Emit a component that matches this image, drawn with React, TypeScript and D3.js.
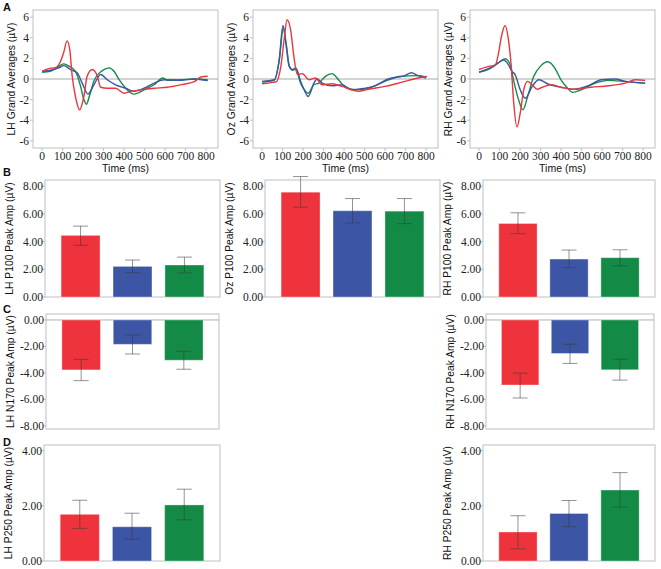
import React from "react";
import * as d3 from "d3";

// ---------- DATA ----------
const CONDITIONS = ["red", "blue", "green"];
const COLORS: Record<string, string> = { red: "#e8373f", blue: "#3a56a6", green: "#168c4a" };
const BAR_COLORS: Record<string, string> = { red: "#ef333d", blue: "#3c55a5", green: "#138b47" };

const TIME_TICKS = [0, 100, 200, 300, 400, 500, 600, 700, 800];
const WAVE_Y_TICKS = [-6, -4, -2, 0, 2, 4, 6];
const P100_TICKS = [0, 2, 4, 6, 8];
const N170_TICKS = [0, -2, -4, -6, -8];
const P250_TICKS = [0, 2, 4];

// waveforms: [ms, µV]
const lhRed: [number, number][] = [[0,0.75],[41,1.05],[65,1.1],[90,1.7],[106,2.6],[122,3.7],[135,2.9],[147,0.3],[163,-1.7],[183,-3.0],[204,-1.7],[220,0.26],[245,0.92],[270,0.26],[286,-0.8],[318,-0.9],[359,-0.9],[400,-1.38],[433,-1.2],[482,-1.05],[547,-0.9],[612,-0.8],[678,-0.55],[743,-0.25],[776,0.2],[808,0.26]];
const lhBlue: [number, number][] = [[0,0.75],[41,0.85],[82,1.08],[106,1.3],[139,0.92],[171,0.6],[196,-0.4],[224,-1.47],[253,-0.56],[286,0.43],[318,-0.07],[359,-0.56],[408,-0.9],[449,-1.2],[498,-0.9],[547,-0.4],[596,-0.07],[678,-0.13],[743,0],[808,-0.16]];
const lhGreen: [number, number][] = [[0,0.65],[41,0.75],[73,1.08],[106,1.47],[131,1.25],[163,0.75],[188,-0.7],[204,-2.0],[216,-2.45],[232,-1.6],[253,-0.2],[275,0.5],[302,0.92],[327,1.08],[351,0.75],[376,-0.07],[408,-0.9],[449,-1.47],[498,-1.05],[547,-0.56],[588,0.1],[612,-0.13],[678,-0.07],[743,0],[808,-0.07]];

const ozRed: [number, number][] = [[0,-0.46],[52,-0.33],[70,-0.25],[92,1.25],[108,3.87],[122,5.75],[140,4.7],[156,2.07],[172,0.43],[196,0.52],[229,-0.07],[261,0.1],[293,-0.56],[341,-0.46],[390,-0.72],[438,-1.05],[470,-1.2],[518,-1.0],[599,-0.72],[679,-0.33],[760,0.1],[805,0.26]];
const ozBlue: [number, number][] = [[0,-0.23],[60,-0.07],[84,1.9],[102,5.2],[116,3.5],[132,1.25],[148,0.92],[165,1.08],[188,-0.23],[209,-1.2],[225,-1.7],[253,-0.4],[269,0.03],[293,-0.4],[341,-0.66],[390,-0.56],[438,-1.05],[486,-0.95],[550,-0.66],[615,0],[696,0.33],[728,0.6],[760,0.33],[800,0.1]];
const ozGreen: [number, number][] = [[0,-0.3],[60,-0.1],[84,1.8],[104,5.0],[118,3.4],[134,1.2],[150,0.85],[165,0.95],[188,-0.4],[212,-1.2],[225,-1.38],[253,-0.56],[277,-0.4],[309,0.26],[341,0.52],[373,-0.07],[406,-0.8],[454,-1.05],[518,-0.9],[599,-0.23],[679,0.26],[760,0.33],[800,0.2]];

const rhRed: [number, number][] = [[0,0.92],[53,1.25],[78,1.3],[94,2.4],[110,4.2],[127,5.2],[143,3.87],[157,1.25],[168,-2.03],[185,-4.66],[201,-3.3],[218,-1.05],[237,-0.23],[259,-0.56],[284,-1.0],[308,-0.8],[350,-0.56],[399,-0.8],[465,-1.0],[547,-0.8],[630,-0.66],[712,-0.4],[762,-0.07],[810,-0.13]];
const rhBlue: [number, number][] = [[0,0.66],[53,1.08],[94,1.57],[119,1.84],[143,1.4],[160,0.75],[176,0.43],[201,-1.05],[226,-1.87],[259,-0.72],[292,-0.07],[333,-0.46],[399,-0.8],[465,-1.0],[531,-0.66],[597,-0.07],[663,0],[712,-0.23],[810,-0.4]];
const rhGreen: [number, number][] = [[0,0.66],[53,1.0],[94,1.57],[127,1.97],[152,1.4],[168,-0.07],[193,-2.03],[214,-3.0],[237,-1.7],[267,0.26],[300,1.25],[335,1.67],[374,0.92],[399,-0.07],[432,-0.9],[455,-1.3],[498,-1.05],[547,-0.56],[597,-0.23],[630,-0.13],[712,-0.23],[810,-0.4]];

// bar values and error limits (red, blue, green)
const lhP100 = [4.45, 2.21, 2.31];
const lhP100Err: [number, number][] = [[3.74, 5.12], [1.76, 2.67], [1.74, 2.88]];
const ozP100 = [7.57, 6.23, 6.2];
const ozP100Err: [number, number][] = [[6.49, 8.7], [5.35, 7.11], [5.3, 7.11]];
const rhP100 = [5.31, 2.74, 2.84];
const rhP100Err: [number, number][] = [[4.57, 6.08], [2.12, 3.39], [2.26, 3.41]];
const lhN170 = [-3.77, -1.84, -3.04];
const lhN170Err: [number, number][] = [[-4.58, -2.97], [-2.57, -1.13], [-3.72, -2.36]];
const rhN170 = [-4.91, -2.53, -3.76];
const rhN170Err: [number, number][] = [[-5.89, -4.01], [-3.28, -1.83], [-4.54, -2.96]];
const lhP250 = [1.69, 1.24, 2.03];
const lhP250Err: [number, number][] = [[1.18, 2.2], [0.79, 1.73], [1.49, 2.6]];
const rhP250 = [1.05, 1.72, 2.57];
const rhP250Err: [number, number][] = [[0.44, 1.64], [1.24, 2.19], [1.95, 3.2]];

// ---------- STYLE ----------
const SANS = "'Liberation Sans', Arial, sans-serif";
const SERIF_STYLE = { fontFamily: "'Liberation Serif', 'Times New Roman', Times, serif" };
const FRAME = "#bfbfbf";
const TICK_FS = 11.5;

function WavePanel({ x0, label, series }: { x0: number; label: string; series: { key: string; data: [number, number][] }[] }) {
  const top = 10, bottom = 148, w = 185;
  const x = d3.scaleLinear().domain([-44, 858]).range([x0, x0 + w]);
  const y = d3.scaleLinear().domain([-6.7, 6.7]).range([bottom, top]);
  const line = d3.line<[number, number]>().x(d => x(d[0])).y(d => y(d[1])).curve(d3.curveMonotoneX);
  return (
    <g>
      <rect x={x0} y={top} width={w} height={bottom - top} fill="white" stroke={FRAME} />
      <line x1={x0} x2={x0 + w} y1={y(0)} y2={y(0)} stroke="#a8a8a8" />
      {WAVE_Y_TICKS.map(t => (
        <g key={t}>
          <line x1={x0 - 3} x2={x0} y1={y(t)} y2={y(t)} stroke={FRAME} />
          <text x={x0 - 4} y={y(t)} dy="0.35em" textAnchor="end" style={SERIF_STYLE} fontSize={TICK_FS} fill="#222">{t}</text>
        </g>
      ))}
      {TIME_TICKS.map(t => (
        <g key={t}>
          <line x1={x(t)} x2={x(t)} y1={bottom} y2={bottom + 3} stroke={FRAME} />
          <text x={x(t)} y={159.5} textAnchor="middle" style={SERIF_STYLE} fontSize={TICK_FS} fill="#222">{t}</text>
        </g>
      ))}
      <text x={x0 + w / 2} y={172} textAnchor="middle" fontFamily={SANS} fontSize={10.5} fill="#111">Time (ms)</text>
      <text transform={`translate(${x0 - 18},${(top + bottom) / 2}) rotate(-90)`} textAnchor="middle" fontFamily={SANS} fontSize={10.3} fill="#111">{label}</text>
      {series.map(s => (
        <path key={s.key} d={line(s.data) || ""} fill="none" stroke={COLORS[s.key]} strokeWidth={1.4} />
      ))}
    </g>
  );
}

function BarPanel({ x0, x1, top, bottom, domain, ticks, label, values, errs }: {
  x0: number; x1: number; top: number; bottom: number; domain: [number, number]; ticks: number[]; label: string; values: number[]; errs: [number, number][];
}) {
  const y = d3.scaleLinear().domain(domain).range([bottom, top]);
  const x = d3.scaleBand().domain(CONDITIONS).range([x0, x1]).paddingInner(0.25).paddingOuter(0.31);
  const bw = x.bandwidth();
  return (
    <g>
      <rect x={x0} y={top} width={x1 - x0} height={bottom - top} fill="white" stroke={FRAME} />
      {domain[0] < 0 && <line x1={x0} x2={x1} y1={y(0)} y2={y(0)} stroke="#b0b0b0" />}
      {ticks.map(t => (
        <g key={t}>
          <line x1={x0 - 3} x2={x0} y1={y(t)} y2={y(t)} stroke={FRAME} />
          <text x={x0 - 2} y={y(t)} dy="0.35em" textAnchor="end" style={SERIF_STYLE} fontSize={TICK_FS} fill="#222">{t.toFixed(2)}</text>
        </g>
      ))}
      <text transform={`translate(${x0 - 32},${(top + bottom) / 2}) rotate(-90)`} textAnchor="middle" fontFamily={SANS} fontSize={10.3} fill="#111">{label}</text>
      {CONDITIONS.map((c, i) => {
        const v = values[i];
        const bx = x(c) as number;
        return (
          <rect key={c} x={bx} y={Math.min(y(v), y(0))} width={bw} height={Math.abs(y(v) - y(0))}
            fill={BAR_COLORS[c]} stroke="rgba(255,255,255,0.35)" strokeWidth={1} />
        );
      })}
      {CONDITIONS.map((c, i) => {
        const cx = (x(c) as number) + bw / 2;
        const [lo, hi] = errs[i];
        return (
          <g key={c} stroke="#3a3a3a" strokeOpacity={0.55} strokeWidth={1}>
            <line x1={cx} x2={cx} y1={y(lo)} y2={y(hi)} />
            <line x1={cx - 7.5} x2={cx + 7.5} y1={y(lo)} y2={y(lo)} />
            <line x1={cx - 7.5} x2={cx + 7.5} y1={y(hi)} y2={y(hi)} />
          </g>
        );
      })}
    </g>
  );
}

export default function App() {
  const panelLetters = [
    { t: "A", y: 11 }, { t: "B", y: 176 }, { t: "C", y: 313 }, { t: "D", y: 446 },
  ];
  const P100: [number, number] = [0, 8.45];
  const N170: [number, number] = [-8.23, 0.45];
  const P250: [number, number] = [0, 4.2];
  return (
    <svg width={661} height={569} style={{ position: "absolute", left: 0, top: 0, background: "white" }}>
      <rect width={661} height={569} fill="white" />
      {panelLetters.map(p => (
        <text key={p.t} x={3} y={p.y} fontFamily={SANS} fontWeight="bold" fontSize={11} fill="#111">{p.t}</text>
      ))}
      <WavePanel x0={33} label="LH Grand Averages (µV)" series={[{ key: "green", data: lhGreen }, { key: "blue", data: lhBlue }, { key: "red", data: lhRed }]} />
      <WavePanel x0={253} label="Oz Grand Averages (µV)" series={[{ key: "green", data: ozGreen }, { key: "blue", data: ozBlue }, { key: "red", data: ozRed }]} />
      <WavePanel x0={470} label="RH Grand Averages (µV)" series={[{ key: "green", data: rhGreen }, { key: "blue", data: rhBlue }, { key: "red", data: rhRed }]} />

      <BarPanel x0={45} x1={220} top={180} bottom={297} domain={P100} ticks={P100_TICKS} label="LH P100 Peak Amp (µV)" values={lhP100} errs={lhP100Err} />
      <BarPanel x0={265} x1={440} top={180} bottom={297} domain={P100} ticks={P100_TICKS} label="Oz P100 Peak Amp (µV)" values={ozP100} errs={ozP100Err} />
      <BarPanel x0={483} x1={655} top={180} bottom={297} domain={P100} ticks={P100_TICKS} label="RH P100 Peak Amp (µV)" values={rhP100} errs={rhP100Err} />

      <BarPanel x0={46} x1={219} top={314} bottom={429} domain={N170} ticks={N170_TICKS} label="LH N170 Peak Amp (µV)" values={lhN170} errs={lhN170Err} />
      <BarPanel x0={486} x1={654} top={314} bottom={429} domain={N170} ticks={N170_TICKS} label="RH N170 Peak Amp (µV)" values={rhN170} errs={rhN170Err} />

      <BarPanel x0={44} x1={220} top={445} bottom={561} domain={P250} ticks={P250_TICKS} label="LH P250 Peak Amp (µV)" values={lhP250} errs={lhP250Err} />
      <BarPanel x0={483} x1={655} top={445} bottom={561} domain={P250} ticks={P250_TICKS} label="RH P250 Peak Amp (µV)" values={rhP250} errs={rhP250Err} />
    </svg>
  );
}
